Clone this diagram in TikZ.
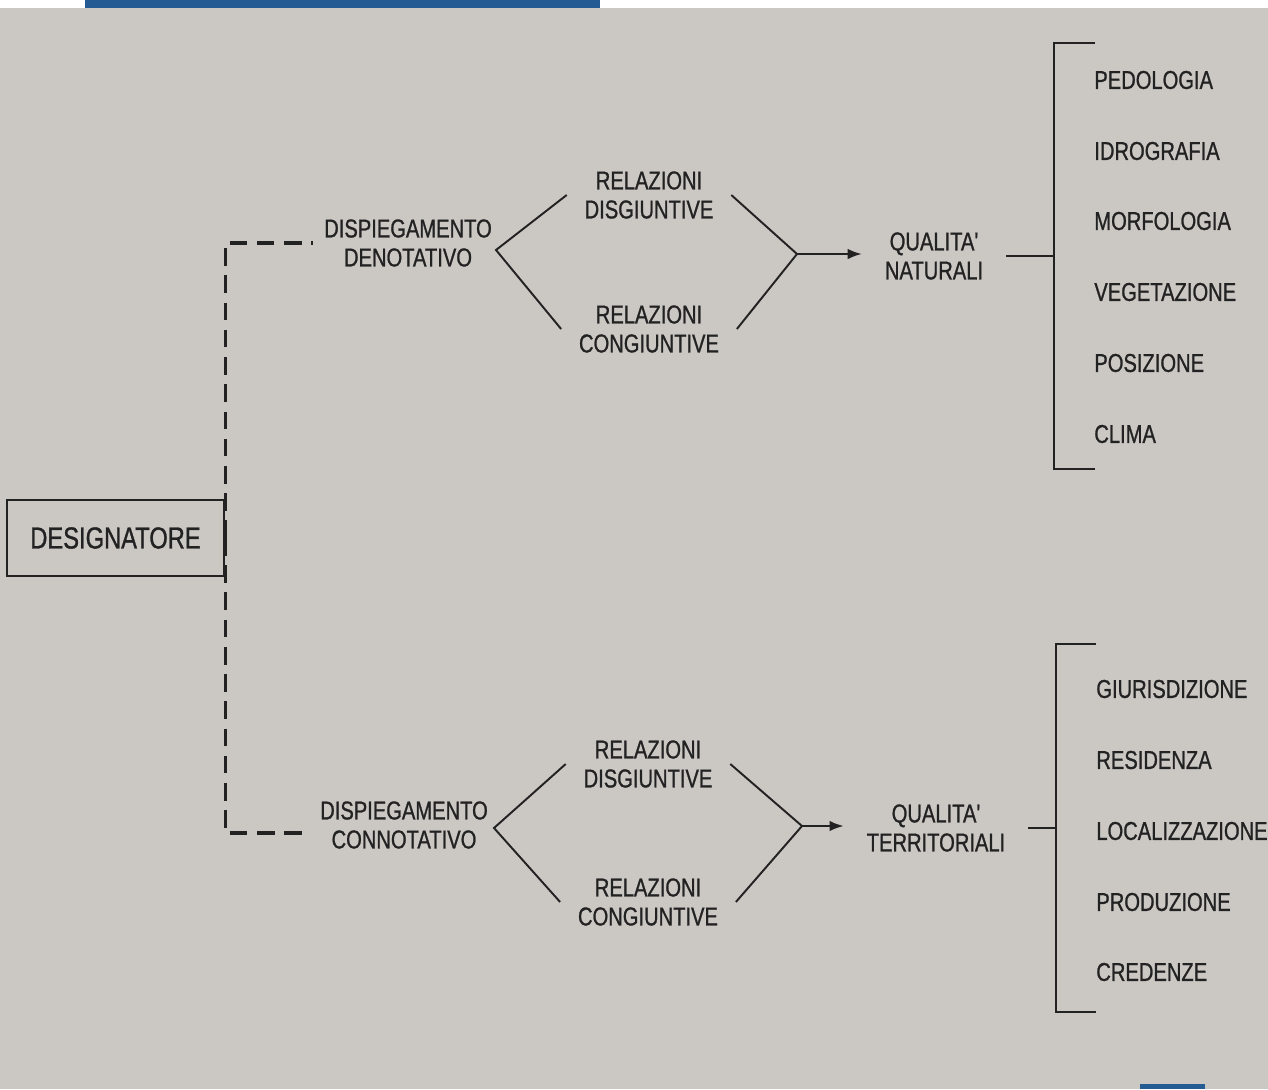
\documentclass[tikz,border=0pt]{standalone}
\usepackage{fontspec}
\newfontfamily\diagfont[FakeStretch=0.78,FakeBold=0.9]{Liberation Sans}
\usetikzlibrary{arrows.meta}
\definecolor{paper}{HTML}{CBC8C4}
\definecolor{ink}{HTML}{222222}
\definecolor{barblue}{HTML}{245B92}
\tikzset{
  lbl/.style    = {inner ysep=0pt, font=\diagfont\fontsize{14.7}{16.5}\selectfont, text=ink, align=center},
  dispnode/.style = {lbl, inner xsep=6pt},
  relnode/.style  = {lbl, inner xsep=10pt},
  qualnode/.style = {lbl, inner xsep=13pt},
  item/.style   = {lbl, inner sep=0pt, anchor=west},
  desbox/.style = {draw=ink, line width=1.3pt, minimum width=4.34cm, minimum height=1.52cm,
                   font=\diagfont\fontsize{17.3}{19}\selectfont, text=ink},
  conn/.style   = {draw=ink, line width=1.1pt},
  dashline/.style = {draw=ink, line width=1.8pt, dash pattern=on 10pt off 5.5pt},
  >={Latex[length=8pt,width=6pt]}
}

\begin{document}
\begin{tikzpicture}[x=0.02cm,y=-0.02cm]
    \useasboundingbox (0,0) rectangle (1268,1089);
    % paper
    \fill[white] (0,0) rectangle (1268,1089);
    \fill[paper] (0,8) rectangle (1268,1089);
    \fill[barblue] (85,0) rectangle (600,8);
    \fill[barblue] (1140,1084) rectangle (1205,1089);

    \node[desbox] (des) at (115.5,538) {DESIGNATORE};

    % natural branch
    \node[dispnode] (dispDen) at (408,243) {DISPIEGAMENTO\\DENOTATIVO};
    \node[relnode]  (relDisN) at (649,195) {RELAZIONI\\DISGIUNTIVE};
    \node[relnode]  (relConN) at (649,329) {RELAZIONI\\CONGIUNTIVE};
    \node[qualnode] (qualN)   at (934,256) {QUALITA'\\NATURALI};
    \coordinate (apexDenL) at (496,250);
    \coordinate (apexDenR) at (797,254);
    \coordinate (brN) at (1054,254);

    \draw[dashline] (des.east) |- (dispDen.west);
    \draw[conn] (relDisN.west) -- (apexDenL) -- (relConN.west);
    \draw[conn] (relDisN.east) -- (apexDenR) -- (relConN.east);
    \draw[conn,->] (apexDenR) -- (apexDenR -| qualN.west);
    \draw[conn] (qualN.east) -- (qualN.east -| brN);
    \draw[conn] (1095,43) -- (1054,43) -- (1054,469) -- (1095,469);

    \foreach \name/\yy [count=\i] in {PEDOLOGIA/80, IDROGRAFIA/151, MORFOLOGIA/221,
                                      VEGETAZIONE/292, POSIZIONE/363, CLIMA/434}
      \node[item] (nat\i) at (1094,\yy) {\name};

    % territorial branch
    \node[dispnode] (dispCon) at (404,825) {DISPIEGAMENTO\\CONNOTATIVO};
    \node[relnode]  (relDisT) at (648,764) {RELAZIONI\\DISGIUNTIVE};
    \node[relnode]  (relConT) at (648,902) {RELAZIONI\\CONGIUNTIVE};
    \node[qualnode] (qualT)   at (936,828) {QUALITA'\\TERRITORIALI};
    \coordinate (apexConL) at (494,828);
    \coordinate (apexConR) at (802,826);
    \coordinate (brT) at (1056,827);

    \draw[dashline] (des.east) |- ([yshift=-4.5pt]dispCon.west);
    \draw[conn] (relDisT.west) -- (apexConL) -- (relConT.west);
    \draw[conn] (relDisT.east) -- (apexConR) -- (relConT.east);
    \draw[conn,->] (apexConR) -- (apexConR -| qualT.west);
    \draw[conn] (qualT.east) -- (qualT.east -| brT);
    \draw[conn] (1096,644) -- (1056,644) -- (1056,1012) -- (1096,1012);

    \foreach \name/\yy [count=\i] in {GIURISDIZIONE/689, RESIDENZA/760, LOCALIZZAZIONE/831,
                                      PRODUZIONE/902, CREDENZE/972}
      \node[item] (ter\i) at (1096,\yy) {\name};
\end{tikzpicture}
\end{document}
